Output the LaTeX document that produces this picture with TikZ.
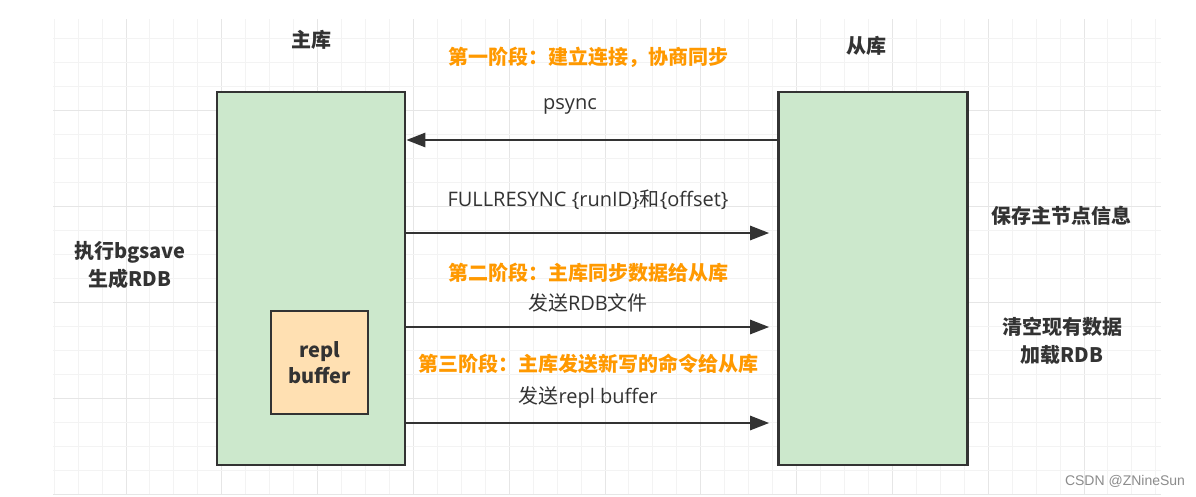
\documentclass[tikz,border=0pt]{standalone}
\usepackage{fontspec}
\setmainfont{Noto Sans CJK SC}
\newfontfamily\wmfont{Liberation Sans}
\newfontfamily\lat{Open Sans}
\usetikzlibrary{arrows.meta}
\definecolor{gridminor}{HTML}{F3F3F3}
\definecolor{gridmajor}{HTML}{E6E6E6}
\definecolor{boxgreen}{HTML}{CCE8CC}
\definecolor{boxorange}{HTML}{FFE0B2}
\definecolor{ink}{HTML}{333333}
\definecolor{phase}{HTML}{FF9900}
\tikzset{
  store/.style={draw=ink, line width=2.6pt, fill=boxgreen, inner sep=0pt},
  bufbox/.style={draw=ink, line width=2.6pt, fill=boxorange, inner sep=0pt, align=center, font=\fontsize{20}{26}\selectfont\bfseries, text=ink},
  msg/.style={draw=ink, line width=2.6pt, -{Triangle[length=19pt,width=14pt]}},
  lbl/.style={text=ink, font=\fontsize{20}{28}\selectfont, inner sep=0pt},
  blbl/.style={text=ink, font=\fontsize{20}{28}\selectfont\bfseries, inner sep=0pt, align=center},
  phaselbl/.style={text=phase, font=\fontsize{20}{28}\selectfont\bfseries, inner sep=0pt},
}
\begin{document}
\begin{tikzpicture}[x=1pt,y=-1pt]
\useasboundingbox (0,0) rectangle (1196,496);
\fill[white] (0,0) rectangle (1196,496);
% grid
\begin{scope}
\clip (53,19) rectangle (1161,495);
\foreach \i in {-3,...,43} {
  \pgfmathsetmacro\xx{126+23.95*\i}
  \draw[gridminor, line width=1pt] (\xx,19) -- (\xx,495);
}
\foreach \i in {0,...,10} {
  \pgfmathsetmacro\xx{126+95.8*\i}
  \draw[gridmajor, line width=1pt] (\xx,19) -- (\xx,495);
}
\foreach \j in {1,...,20} {
  \pgfmathsetmacro\yy{14+24*\j}
  \draw[gridminor, line width=1pt] (53,\yy) -- (1161,\yy);
}
\foreach \j in {0,...,4} {
  \pgfmathsetmacro\yy{110+96*\j}
  \draw[gridmajor, line width=1pt] (53,\yy) -- (1161,\yy);
}
\end{scope}
% boxes
\node[store, minimum width=188pt, minimum height=373pt] (m) at (311,278.5) {};
\node[store, minimum width=189pt, minimum height=373pt] (s) at (873,278.5) {};
\node[bufbox, minimum width=97pt, minimum height=103pt] (buf) at (319.5,362.5) {repl\\buffer};
% titles
\node[blbl] (mt) at (311,40) {主库};
\node[blbl] (st) at (866,46) {从库};
% arrows
\draw[msg] ([yshift=138.5pt]s.west) -- ([yshift=138.5pt]m.east);
\draw[msg, shorten >=8pt] ([yshift=45.5pt]m.east) -- ([yshift=45.5pt]s.west);
\draw[msg, shorten >=8pt] ([yshift=-48.5pt]m.east) -- ([yshift=-48.5pt]s.west);
\draw[msg, shorten >=8pt] ([yshift=-144.5pt]m.east) -- ([yshift=-144.5pt]s.west);
% labels
\node[phaselbl] (p1) at (588,57) {第一阶段：建立连接，协商同步};
\node[lbl] (l1) at (570,106) {\lat psync};
\node[lbl] (l2) at (588,200) {{\lat FULLRESYNC \{runID\}}和{\lat\{offset\}}};
\node[phaselbl] (p2) at (588,273) {第二阶段：主库同步数据给从库};
\node[lbl] (l3) at (588,303) {发送{\lat RDB}文件};
\node[phaselbl] (p3) at (588,364) {第三阶段：主库发送新写的命令给从库};
\node[lbl] (l4) at (588,397) {发送{\lat repl buffer}};
\node[blbl] (ml) at (130,265) {执行bgsave\\生成RDB};
\node[blbl] (sl1) at (1061,216) {保存主节点信息};
\node[blbl] (sl2) at (1062,341) {清空现有数据\\加载RDB};
\node[text=black!45, font=\wmfont\fontsize{14}{16}\selectfont, inner sep=0pt] (wm) at (1125,481) {CSDN @ZNineSun};
\end{tikzpicture}
\end{document}
